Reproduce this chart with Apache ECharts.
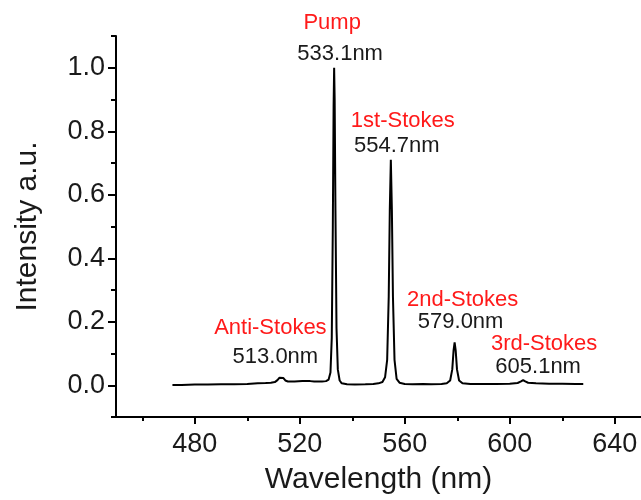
<!DOCTYPE html>
<html>
<head>
<meta charset="utf-8">
<script src="https://cdn.jsdelivr.net/npm/echarts@6/dist/echarts.min.js"></script>
<style>
  html, body { margin: 0; padding: 0; background: #fff; }
  #chart { width: 641px; height: 500px; }
</style>
</head>
<body>
<div id="chart"></div>
<script>
// Raman spectrum: wavelength (nm) vs normalised intensity
const wavelength = [
  471.5, 475, 480, 485, 490, 495, 500, 504, 507, 509,
  510.5, 511.5, 512.3, 513.0, 513.7, 514.5, 515.5, 518, 521, 524,
  525.5, 526.2, 526.8, 528.5, 530, 531, 531.7, 532.2, 532.6, 532.9,
  533.1, 533.3, 533.6, 534.0, 534.5, 535.2, 536, 538, 541, 545,
  548, 550, 551.5, 552.5, 553.3, 553.9, 554.3, 554.7, 555.1, 555.5,
  556.1, 556.9, 558, 560, 563, 567, 570, 574, 576, 577.3,
  578.1, 578.6, 579.0, 579.4, 579.9, 580.7, 582, 585, 590, 595,
  600, 603, 604.3, 605.1, 605.9, 607, 610, 615, 620, 625, 628
];
const intensity = [
  0.001, 0.001, 0.002, 0.002, 0.003, 0.003, 0.004, 0.006, 0.007, 0.008,
  0.010, 0.016, 0.024, 0.028, 0.023, 0.015, 0.012, 0.012, 0.013, 0.013,
  0.012, 0.008, 0.012, 0.012, 0.013, 0.018, 0.040, 0.150, 0.500, 0.880,
  1.000, 0.900, 0.550, 0.180, 0.050, 0.015, 0.006, 0.003, 0.002, 0.003,
  0.004, 0.006, 0.010, 0.025, 0.080, 0.280, 0.550, 0.710, 0.550, 0.280,
  0.080, 0.020, 0.008, 0.004, 0.003, 0.004, 0.003, 0.004, 0.006, 0.015,
  0.050, 0.110, 0.135, 0.110, 0.050, 0.015, 0.006, 0.004, 0.004, 0.004,
  0.005, 0.007, 0.012, 0.016, 0.012, 0.008, 0.006, 0.005, 0.005, 0.004, 0.004
];

// Annotated lines
const peakNames = ['Anti-Stokes', 'Pump', '1st-Stokes', '2nd-Stokes', '3rd-Stokes'];
const peakWavelengths = [513.0, 533.1, 554.7, 579.0, 605.1];

// Axis ticks
const xTickLabels = [480, 520, 560, 600, 640];
const xMinorTicks = [460, 500, 540, 580, 620];
const yTickLabels = [0, 0.2, 0.4, 0.6, 0.8, 1.0];
const yMinorTicks = [-0.1, 0.1, 0.3, 0.5, 0.7, 0.9, 1.1];

const seriesData = wavelength.map((w, i) => [w, intensity[i]]);
const peakHeight = w => intensity[wavelength.indexOf(w)];

// pixel offsets of the two annotation lines from each peak tip
const nameOffsets  = [[-11, -48], [-2, -45], [12, -39], [8, -42], [21, -36]];
const valueOffsets = [[-6, -19], [6, -14], [6, -14], [6, -20], [15, -13]];

const FONT = 'Liberation Sans, Arial, Helvetica, sans-serif';

const markData = [];
peakWavelengths.forEach((w, i) => {
  const coord = [w, peakHeight(w)];
  markData.push({
    coord: coord,
    label: {
      show: true, position: 'inside', offset: nameOffsets[i],
      formatter: peakNames[i], color: '#ff1a1a', fontSize: 22, fontFamily: FONT
    }
  });
  markData.push({
    coord: coord,
    label: {
      show: true, position: 'inside', offset: valueOffsets[i],
      formatter: w.toFixed(1) + 'nm', color: '#1a1a1a', fontSize: 22, fontFamily: FONT
    }
  });
});

const axisLineStyle = { color: '#000', width: 2 };
const xRange = { min: 450, max: 650 };
const yRange = { min: -0.1, max: 1.1 };

const chart = echarts.init(document.getElementById('chart'), null, { renderer: 'canvas' });
chart.setOption({
  animation: false,
  backgroundColor: '#fff',
  grid: { left: 116, right: 0, top: 36, bottom: 79 },
  xAxis: [
    {
      type: 'value', position: 'bottom', ...xRange,
      name: 'Wavelength (nm)', nameLocation: 'middle', nameGap: 48,
      nameTextStyle: { fontSize: 30, fontFamily: FONT, color: '#1a1a1a' },
      axisLine: { show: true, onZero: false, lineStyle: axisLineStyle },
      axisTick: { show: true, inside: false, length: 7, customValues: xTickLabels, lineStyle: axisLineStyle },
      axisLabel: { show: true, margin: 14, customValues: xTickLabels, fontSize: 27, fontFamily: FONT, color: '#1a1a1a' },
      splitLine: { show: false }
    },
    {
      type: 'value', position: 'bottom', ...xRange,
      axisLine: { show: false, onZero: false },
      axisTick: { show: true, inside: false, length: 4, customValues: xMinorTicks, lineStyle: axisLineStyle },
      axisLabel: { show: false },
      splitLine: { show: false }
    }
  ],
  yAxis: [
    {
      type: 'value', position: 'left', ...yRange,
      name: 'Intensity a.u.', nameLocation: 'middle', nameGap: 73,
      nameTextStyle: { fontSize: 30, fontFamily: FONT, color: '#1a1a1a' },
      axisLine: { show: true, onZero: false, lineStyle: axisLineStyle },
      axisTick: { show: true, inside: false, length: 8, customValues: yTickLabels, lineStyle: axisLineStyle },
      axisLabel: {
        show: true, margin: 11, customValues: yTickLabels, fontSize: 27, fontFamily: FONT, color: '#1a1a1a',
        formatter: v => v.toFixed(1)
      },
      splitLine: { show: false }
    },
    {
      type: 'value', position: 'left', ...yRange,
      axisLine: { show: false, onZero: false },
      axisTick: { show: true, inside: false, length: 5, customValues: yMinorTicks, lineStyle: axisLineStyle },
      axisLabel: { show: false },
      splitLine: { show: false }
    }
  ],
  series: [
    {
      type: 'line',
      xAxisIndex: 0, yAxisIndex: 0,
      data: seriesData,
      showSymbol: false,
      symbol: 'none',
      lineStyle: { color: '#000', width: 2 },
      markPoint: {
        symbol: 'circle', symbolSize: 0, silent: true,
        itemStyle: { color: 'rgba(0,0,0,0)' },
        data: markData
      }
    }
  ]
});
</script>
</body>
</html>
